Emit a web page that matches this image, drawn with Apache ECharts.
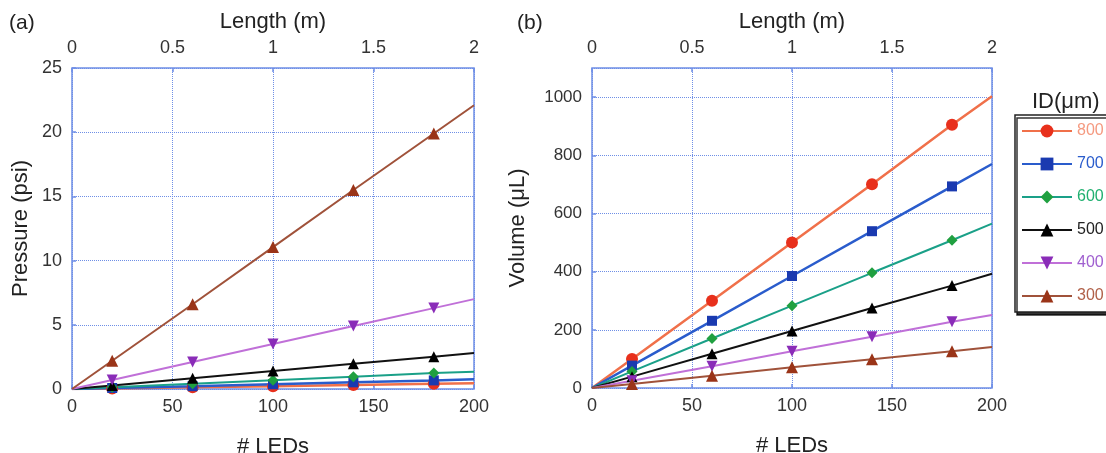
<!DOCTYPE html>
<html>
<head>
<meta charset="utf-8">
<script src="https://cdn.jsdelivr.net/npm/echarts@6/dist/echarts.min.js"></script>
<style>
    html, body {margin: 0; padding: 0; background: #fff;}
    #chart {width: 1106px; height: 453px;}
</style>
</head>
<body>
<div id="chart"></div>
<script>
// number of LEDs (x), markers only at the inner points
const leds = [0, 20, 60, 100, 140, 180, 200];
const ids = ['800', '700', '600', '500', '400', '300'];

// (a) pressure, psi
const pressure800 = [0, 0.04, 0.13, 0.22, 0.31, 0.40, 0.44];
const pressure700 = [0, 0.08, 0.22, 0.37, 0.52, 0.67, 0.75];
const pressure600 = [0, 0.14, 0.41, 0.69, 0.96, 1.24, 1.35];
const pressure500 = [0, 0.28, 0.84, 1.40, 1.96, 2.52, 2.80];
const pressure400 = [0, 0.70, 2.10, 3.50, 4.90, 6.30, 7.00];
const pressure300 = [0, 2.20, 6.60, 11.05, 15.50, 19.90, 22.10];

// (b) volume, uL
const volume800 = [0, 100, 300, 500, 700, 905, 1003];
const volume700 = [0, 77, 231, 385, 539, 693, 770];
const volume600 = [0, 57, 170, 283, 396, 508, 565];
const volume500 = [0, 39, 118, 196, 275, 352, 393];
const volume400 = [0, 25, 75, 126, 176, 228, 251];
const volume300 = [0, 14, 42, 71, 99, 126, 141];

const lengthTicks = [0, 0.5, 1, 1.5, 2];

const FONT = 'Liberation Sans';
const gridColor = '#6f8fe6';

const styles = {
    '800': {line: '#f0704a', marker: '#e8301c', symbol: 'circle', size: 12, text: '#f59a80'},
    '700': {line: '#2a5ccc', marker: '#1a3ab0', symbol: 'rect', size: 10, text: '#2a5ccc'},
    '600': {line: '#1aa088', marker: '#20a040', symbol: 'diamond', size: 11, text: '#20b070'},
    '500': {line: '#111111', marker: '#000000', symbol: 'triangle', size: 11, text: '#222222'},
    '400': {line: '#c070d8', marker: '#8a2cb8', symbol: 'triangle', size: 11, rotate: 180, text: '#a060d0'},
    '300': {line: '#a0523a', marker: '#9a3418', symbol: 'triangle', size: 12, text: '#b06048'}
};

const pressureData = {'800': pressure800, '700': pressure700, '600': pressure600,
    '500': pressure500, '400': pressure400, '300': pressure300};
const volumeData = {'800': volume800, '700': volume700, '600': volume600,
    '500': volume500, '400': volume400, '300': volume300};

function makeSeries(id, values, axisIndex) {
    let st = styles[id];
    let last = values.length - 1;
    return {
        name: id,
        type: 'line',
        xAxisIndex: axisIndex * 2,
        yAxisIndex: axisIndex,
        data: values.map((v, i) => {
            let item = {value: [leds[i], v]};
            if (i === 0 || i === last) {
                item.symbol = 'none';
            }
            return item;
        }),
        symbol: st.symbol,
        symbolSize: st.size,
        symbolRotate: st.rotate || 0,
        lineStyle: {color: st.line, width: id === '700' || id === '800' ? 2.5 : 2},
        itemStyle: {color: st.marker},
        animation: false,
        z: 3
    };
}

const tickStyle = {show: true, inside: true, length: 4, lineStyle: {color: gridColor, width: 1.5}};

function ledAxis(gridIndex) {
    return {
        type: 'value', gridIndex: gridIndex, position: 'bottom',
        min: 0, max: 200, interval: 50,
        name: '# LEDs', nameLocation: 'middle', nameGap: 47,
        nameTextStyle: {fontFamily: FONT, fontSize: 22, color: '#222'},
        axisLine: {show: false}, axisTick: tickStyle,
        axisLabel: {fontFamily: FONT, fontSize: 18, color: '#333', margin: 9},
        splitLine: {show: true, lineStyle: {color: gridColor, type: 'dotted', width: 1}}
    };
}

function lengthAxis(gridIndex) {
    return {
        type: 'value', gridIndex: gridIndex, position: 'top',
        min: 0, max: 2, interval: 0.5,
        name: 'Length (m)', nameLocation: 'middle', nameGap: 35,
        nameTextStyle: {fontFamily: FONT, fontSize: 22, color: '#222'},
        axisLine: {show: false}, axisTick: tickStyle,
        axisLabel: {fontFamily: FONT, fontSize: 18, color: '#333', margin: 11,
            formatter: v => lengthTicks.indexOf(v) >= 0 ? String(v) : ''},
        splitLine: {show: false}
    };
}

const chart = echarts.init(document.getElementById('chart'));

let series = [];
ids.forEach(id => series.push(makeSeries(id, pressureData[id], 0)));
ids.forEach(id => series.push(makeSeries(id, volumeData[id], 1)));

const option = {
    backgroundColor: '#fff',
    animation: false,
    title: [
        {text: '(a)', left: 4, top: 8, textStyle: {fontFamily: FONT, fontSize: 21, fontWeight: 'normal', color: '#222'}},
        {text: '(b)', left: 512, top: 8, textStyle: {fontFamily: FONT, fontSize: 21, fontWeight: 'normal', color: '#222'}},
        {text: 'ID(\u03bcm)', left: 1027, top: 86, textStyle: {fontFamily: FONT, fontSize: 22, fontWeight: 'normal', color: '#222'}}
    ],
    grid: [
        {left: 72, top: 68, width: 402, height: 321, show: true, borderColor: gridColor, borderWidth: 1.5,
            backgroundColor: 'transparent', containLabel: false, outerBoundsMode: 'none'},
        {left: 592, top: 68, width: 400, height: 320, show: true, borderColor: gridColor, borderWidth: 1.5,
            backgroundColor: 'transparent', containLabel: false, outerBoundsMode: 'none'}
    ],
    xAxis: [ledAxis(0), lengthAxis(0), ledAxis(1), lengthAxis(1)],
    yAxis: [
        {
            type: 'value', gridIndex: 0, min: 0, max: 25, interval: 5,
            name: 'Pressure (psi)', nameLocation: 'middle', nameGap: 40,
            nameTextStyle: {fontFamily: FONT, fontSize: 22, color: '#222'},
            axisLine: {show: false}, axisTick: tickStyle,
            axisLabel: {fontFamily: FONT, fontSize: 18, color: '#333', margin: 10},
            splitLine: {show: true, lineStyle: {color: gridColor, type: 'dotted', width: 1}}
        },
        {
            type: 'value', gridIndex: 1, min: 0, max: 1100, interval: 200,
            name: 'Volume (\u03bcL)', nameLocation: 'middle', nameGap: 63,
            nameTextStyle: {fontFamily: FONT, fontSize: 22, color: '#222'},
            axisLine: {show: false}, axisTick: tickStyle,
            axisLabel: {fontFamily: FONT, fontSize: 17, color: '#333', margin: 10, showMaxLabel: false,
                formatter: v => v > 1000 ? '' : String(v)},
            splitLine: {show: true, lineStyle: {color: gridColor, type: 'dotted', width: 1}}
        }
    ],
    legend: {
        orient: 'vertical',
        left: 1015, top: 115,
        padding: [8, 40, 8, 6],
        itemGap: 17,
        itemWidth: 50, itemHeight: 16,
        backgroundColor: '#fff',
        borderColor: '#222', borderWidth: 1.5,
        shadowColor: 'rgba(0,0,0,0.8)', shadowBlur: 0, shadowOffsetX: 2, shadowOffsetY: 3,
        textStyle: {fontFamily: FONT, fontSize: 16},
        data: ids.map(id => ({name: id, textStyle: {color: styles[id].text}}))
    },
    series: series
};

chart.setOption(option);
</script>
</body>
</html>
